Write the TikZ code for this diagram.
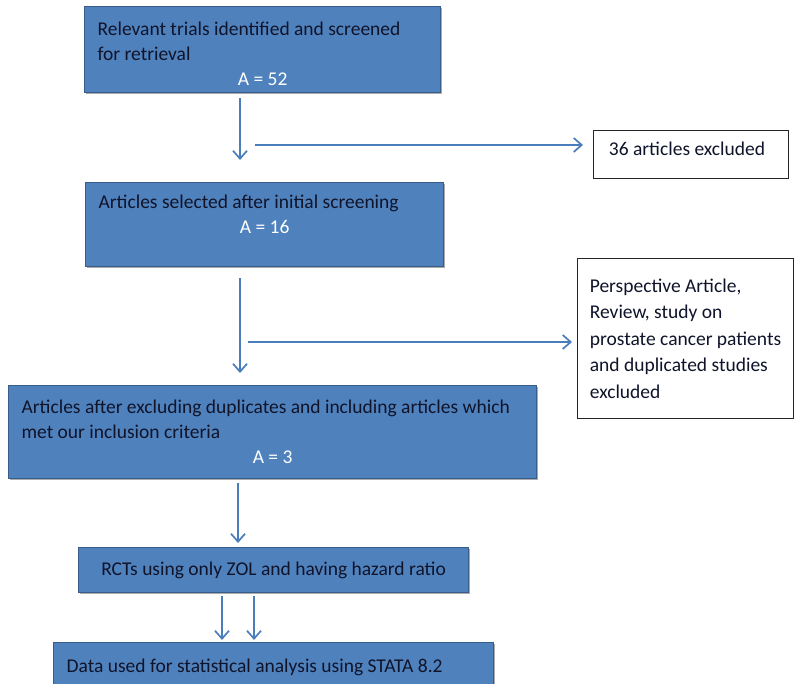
\documentclass[tikz,border=0pt]{standalone}
\usepackage{fontspec}
\setmainfont{Carlito}
\usepackage{xcolor}
\usepackage{tikz}
\usetikzlibrary{arrows.meta,shadows}
\definecolor{officeblue}{HTML}{4F81BD}
\definecolor{officeline}{HTML}{385D8A}
\definecolor{flowblue}{HTML}{4A7EBB}
\definecolor{inktext}{HTML}{10142A}

\newcommand{\countline}[1]{\par{\centering\color{white}#1\par}}

\begin{document}
\begin{tikzpicture}[x=1pt,y=-1pt,
    stagebox/.style={fill=officeblue, draw=officeline, line width=1.2pt, text=inktext,
      anchor=north west, align=flush left, inner xsep=13pt, inner ysep=0pt,
      font=\fontsize{19.5}{25}\selectfont,
      drop shadow={shadow xshift=1.2pt, shadow yshift=-1.6pt, fill=black!60, opacity=.55}},
    exclbox/.style={fill=white, draw=black!85, line width=1pt, text=inktext,
      anchor=north west, align=left, inner xsep=12pt, inner ysep=0pt,
      font=\fontsize{19.5}{26.5}\selectfont},
    flow/.style={draw=flowblue, line width=1.7pt, -{Straight Barb[length=8pt,width=14pt,line width=1.7pt]}}]
  \useasboundingbox (0,0) rectangle (795,684);
  \clip (0,0) rectangle (795,684);

  % main stages
  \node[stagebox, text width=330pt, minimum height=86pt] (rel) at (84,6)
    {Relevant trials identified and screened\\for retrieval\countline{A = 52}\vspace*{-9pt}};
  \node[stagebox, text width=332pt, minimum height=84pt] (sel) at (85,182)
    {Articles selected after initial screening\countline{A = 16}\vspace*{20pt}};
  \node[stagebox, text width=502pt, minimum height=93pt] (incl) at (8,385)
    {Articles after excluding duplicates and including articles which\\met our inclusion criteria\countline{A = 3}};
  \node[stagebox, align=center, minimum width=390pt, minimum height=45pt] (rct) at (78,547)
    {RCTs using only ZOL and having hazard ratio};
  \node[stagebox, text width=414pt, minimum height=50pt] (data) at (53,642)
    {Data used for statistical analysis using STATA 8.2};

  % exclusions
  \node[exclbox, minimum width=195pt, minimum height=48pt, text depth=12pt] (excl1) at (593,130)
    {36 articles excluded\hspace*{8pt}};
  \node[exclbox, minimum width=216pt, minimum height=160pt] (excl2) at (577,258)
    {Perspective Article,\\Review, study on\\prostate cancer patients\\and duplicated studies\\excluded};

  % arrows
  \coordinate (spine) at (240,0);
  \coordinate (b1) at (255,145);
  \coordinate (b2) at (248,342);
  \draw[flow, shorten <=5pt, shorten >=22pt] (rel.south -| spine) -- (sel.north -| spine);
  \draw[flow, shorten >=10pt] (b1) -- (b1 -| excl1.west);
  \draw[flow, shorten <=11pt, shorten >=12pt] (sel.south -| spine) -- (incl.north -| spine);
  \draw[flow, shorten >=5pt] (b2) -- (b2 -| excl2.west);
  \draw[flow, shorten <=4pt, shorten >=4pt] ([xshift=-2pt]incl.south -| spine) -- ([xshift=-2pt]rct.north -| spine);
  \foreach \dx in {-18,14}
    \draw[flow, shorten <=3pt, shorten >=2pt] ([xshift=\dx pt]rct.south -| spine) -- ([xshift=\dx pt]data.north -| spine);
\end{tikzpicture}
\end{document}
